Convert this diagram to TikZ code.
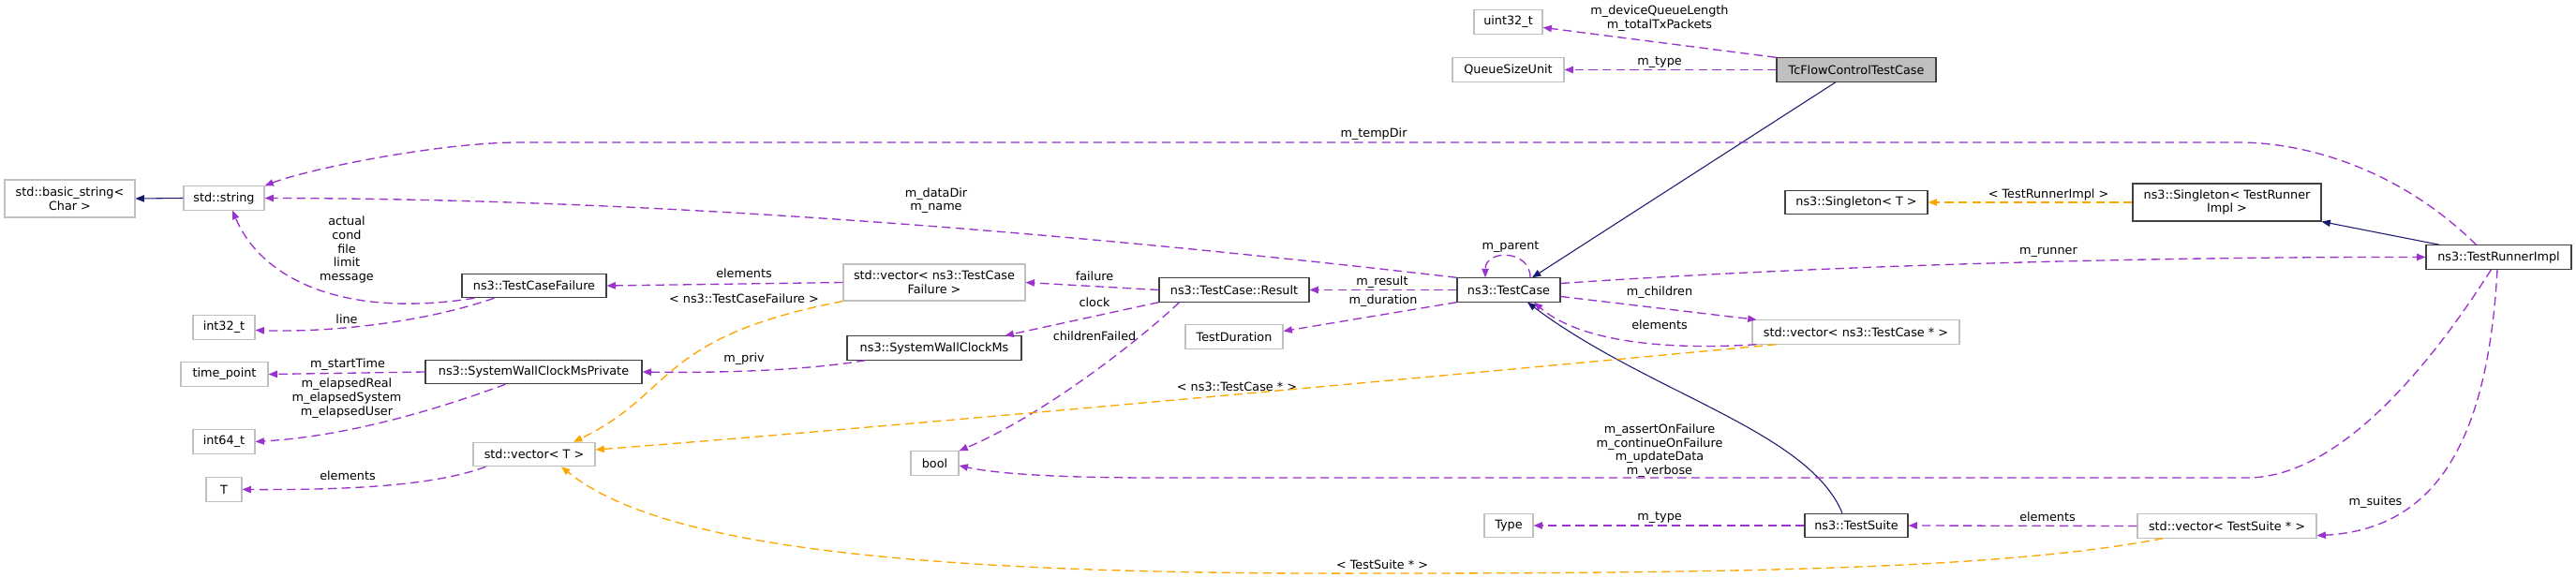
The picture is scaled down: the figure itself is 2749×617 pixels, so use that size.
\documentclass[tikz,border=0pt]{standalone}
\usepackage{fontspec}
\setmainfont{DejaVu Sans}
\usetikzlibrary{arrows.meta,calc}
\definecolor{membcol}{HTML}{9A32CD}
\definecolor{tmplcol}{HTML}{FFA500}
\definecolor{inhcol}{HTML}{191970}
\definecolor{greycol}{HTML}{BFBFBF}
\tikzset{
  box/.style={draw=black!75, line width=0.8pt, fill=white, inner sep=0pt,
    minimum height=19pt, align=center, font=\fontsize{9.6}{11}\selectfont},
  ext/.style={box, draw=greycol},
  focus/.style={box, fill=greycol},
  lbl/.style={inner sep=0pt, align=center, font=\fontsize{9.6}{11}\selectfont},
  tip/.style={-{Triangle[length=7pt,width=5.5pt]}},
  memb/.style={tip, draw=membcol, line width=1pt, dash pattern=on 7pt off 4pt},
  tmpl/.style={tip, draw=tmplcol, line width=1pt, dash pattern=on 7pt off 4pt},
  inh/.style={tip, draw=inhcol, line width=0.8pt}
}
\begin{document}
\begin{tikzpicture}[x=0.75pt,y=-0.75pt]
\useasboundingbox (0,0) rectangle (2749,617);

\node[ext, minimum width=104.25pt, minimum height=30pt] (BStr) at (74.5,212) {std::basic\_string<\\Char >};
\node[ext, minimum width=64.5pt] (Str) at (239,211.5) {std::string};
\node[ext, minimum width=49.5pt] (I32) at (239,349.5) {int32\_t};
\node[ext, minimum width=69.75pt] (TP) at (239.5,399.5) {time\_point};
\node[ext, minimum width=49.5pt] (I64) at (239,471.5) {int64\_t};
\node[ext, minimum width=28.5pt] (T) at (239,522.5) {T};

\node[box, minimum width=115.5pt] (TCF) at (570,305) {ns3::TestCaseFailure};
\node[box, minimum width=173.25pt] (SWP) at (569.5,397) {ns3::SystemWallClockMsPrivate};
\node[ext, minimum width=97.5pt] (VT) at (570,485) {std::vector< T >};

\node[ext, minimum width=145.5pt, minimum height=29.25pt] (VTCF) at (997,301.5) {std::vector< ns3::TestCase\\Failure >};
\node[box, minimum width=139.5pt] (SW) at (997,371.5) {ns3::SystemWallClockMs};
\node[ext, minimum width=38.25pt] (B) at (997.5,494.5) {bool};

\node[box, minimum width=120pt] (Res) at (1317,309.5) {ns3::TestCase::Result};
\node[ext, minimum width=78pt] (TD) at (1317,359.5) {TestDuration};

\node[ext, minimum width=54.75pt] (U32) at (1609.5,23.5) {uint32\_t};
\node[ext, minimum width=89.25pt] (QSU) at (1609.5,74.5) {QueueSizeUnit};
\node[box, minimum width=82.5pt] (TC) at (1610,309.5) {ns3::TestCase};
\node[ext, minimum width=39pt] (Ty) at (1610,561) {Type};

\node[focus, minimum width=127.5pt] (TFC) at (1981,74.5) {TcFlowControlTestCase};
\node[box, minimum width=114pt] (S) at (1981,216) {ns3::Singleton< T >};
\node[ext, minimum width=165.75pt] (VTC) at (1980.5,354.5) {std::vector< ns3::TestCase * >};
\node[box, minimum width=82.5pt] (TS) at (1981,561) {ns3::TestSuite};

\node[box, minimum width=150.75pt, minimum height=30pt] (STR) at (2376.5,216) {ns3::Singleton< TestRunner\\Impl >};
\node[ext, minimum width=143.25pt] (VTS) at (2376.5,561.5) {std::vector< TestSuite * >};
\node[box, minimum width=116.25pt] (TRI) at (2666.5,274.5) {ns3::TestRunnerImpl};

\node[lbl] (L1) at (1771,19.5) {m\_deviceQueueLength\\m\_totalTxPackets};
\node[lbl] (L2) at (1771,67) {m\_type};
\node[lbl] (L3) at (1466,143) {m\_tempDir};
\node[lbl] (L4) at (999,214) {m\_dataDir\\m\_name};
\node[lbl] (L5) at (1612,264) {m\_parent};
\node[lbl] (L6) at (2186,208) {< TestRunnerImpl >};
\node[lbl] (L7) at (2186,269) {m\_runner};
\node[lbl] (L8) at (370,266.5) {actual\\cond\\file\\limit\\message};
\node[lbl] (L9) at (794,292) {elements};
\node[lbl] (L10) at (1168,295) {failure};
\node[lbl] (L11) at (1475,301) {m\_result};
\node[lbl] (L12) at (1476,321) {m\_duration};
\node[lbl] (L13) at (1168,323) {clock};
\node[lbl] (L14) at (1771,312) {m\_children};
\node[lbl] (L15) at (370,341) {line};
\node[lbl] (L16) at (1771,347) {elements};
\node[lbl] (L17) at (1168,359) {childrenFailed};
\node[lbl] (L18) at (794,319) {< ns3::TestCaseFailure >};
\node[lbl] (L19) at (794,383) {m\_priv};
\node[lbl] (L20) at (371,389) {m\_startTime};
\node[lbl] (L21) at (370,425) {m\_elapsedReal\\m\_elapsedSystem\\m\_elapsedUser};
\node[lbl] (L22) at (1320,413) {< ns3::TestCase * >};
\node[lbl] (L23) at (1771,481) {m\_assertOnFailure\\m\_continueOnFailure\\m\_updateData\\m\_verbose};
\node[lbl] (L24) at (371,508) {elements};
\node[lbl] (L25) at (2535,536) {m\_suites};
\node[lbl] (L26) at (2185,552) {elements};
\node[lbl] (L27) at (1771,553) {m\_type};
\node[lbl] (L28) at (1475,603) {< TestSuite * >};

\draw[inh] (Str.west) -- (BStr.east);
\draw[inh] ($(TFC.south)+(-22,0)$) -- ($(TC.north)+(25,0)$);
\draw[inh] ($(TS.north)+(-15,0)$) .. controls (1930,460) and (1760,420) .. ($(TC.south)+(20,0)$);
\draw[inh] ($(TRI.north)+(-63,0)$) -- (STR.south east);

\draw[memb] (TFC.north west) -- (U32.-9);
\draw[memb] (TFC.west) -- (QSU.east);
\draw[memb] ($(TC.north)+(23,0)$) .. controls (1633,266) and (1585,266) .. ($(TC.north)+(-25,0)$);
\draw[memb] (TC.north west) .. controls (1000,232) and (600,212) .. (Str.east);
\draw[memb] ($(TRI.north)+(-24,0)$) .. controls (2560,180) and (2460,152) .. (2389,152)
  -- (555,152) .. controls (470,152) and (330,180) .. (Str.north east);
\draw[memb] ($(TC.east)+(0,-7)$) .. controls (1950,283) and (2300,274) .. (TRI.west);
\draw[memb] (TC.west) -- (Res.east);
\draw[memb] (TC.south west) -- ($(TD.east)+(0,-6)$);
\draw[memb] ($(TC.east)+(0,7)$) -- ($(VTC.north west)+(5,0)$);
\draw[memb] ($(VTC.south west)+(5,0)$) .. controls (1760,375) and (1680,360) .. ($(TC.south)+(27,0)$);
\draw[memb] (Res.west) -- (VTCF.east);
\draw[memb] (VTCF.west) -- (TCF.east);
\draw[memb] (Res.south west) -- ($(SW.north east)+(-18,0)$);
\draw[memb] ($(Res.south west)+(22,0)$) .. controls (1225,355) and (1120,440) .. (B.north east);
\draw[memb] ($(SW.south west)+(20,0)$) .. controls (850,397) and (750,398) .. (SWP.east);
\draw[memb] (SWP.west) -- (TP.east);
\draw[memb] ($(SWP.south)+(-30,0)$) .. controls (480,432) and (380,465) .. (I64.east);
\draw[memb] ($(VT.south west)+(14,0)$) .. controls (460,520) and (360,523) .. (T.east);
\draw[memb] ($(TCF.south west)+(14,0)$) .. controls (370,340) and (280,300) .. ($(Str.south)+(9,0)$);
\draw[memb] ($(TCF.south west)+(35,0)$) .. controls (450,345) and (350,355) .. ($(I32.east)+(0,3)$);
\draw[memb] ($(TRI.south)+(-8,0)$) .. controls (2600,380) and (2500,510) .. (2398,510)
  -- (1232,510) .. controls (1120,510) and (1060,505) .. ($(B.east)+(0,2.5)$);
\draw[memb] ($(TRI.south)+(-1.5,0)$) .. controls (2655,470) and (2600,565) .. ($(VTS.south east)+(0,-3)$);
\draw[memb] (VTS.west) -- (TS.east);
\draw[memb] (TS.west) -- (Ty.east);

\draw[tmpl] (STR.west) -- (S.east);
\draw[tmpl] ($(VTC.south west)+(26,0)$) .. controls (1500,405) and (900,460) .. ($(VT.east)+(0,-5)$);
\draw[tmpl] (VTCF.south west) .. controls (700,360) and (720,420) .. ($(VT.north)+(42,0)$);
\draw[tmpl] ($(VTS.south west)+(28,0)$) .. controls (2150,605) and (1900,612) .. (1475,612)
  .. controls (950,614) and (700,580) .. ($(VT.south)+(29,0)$);
\end{tikzpicture}
\end{document}
